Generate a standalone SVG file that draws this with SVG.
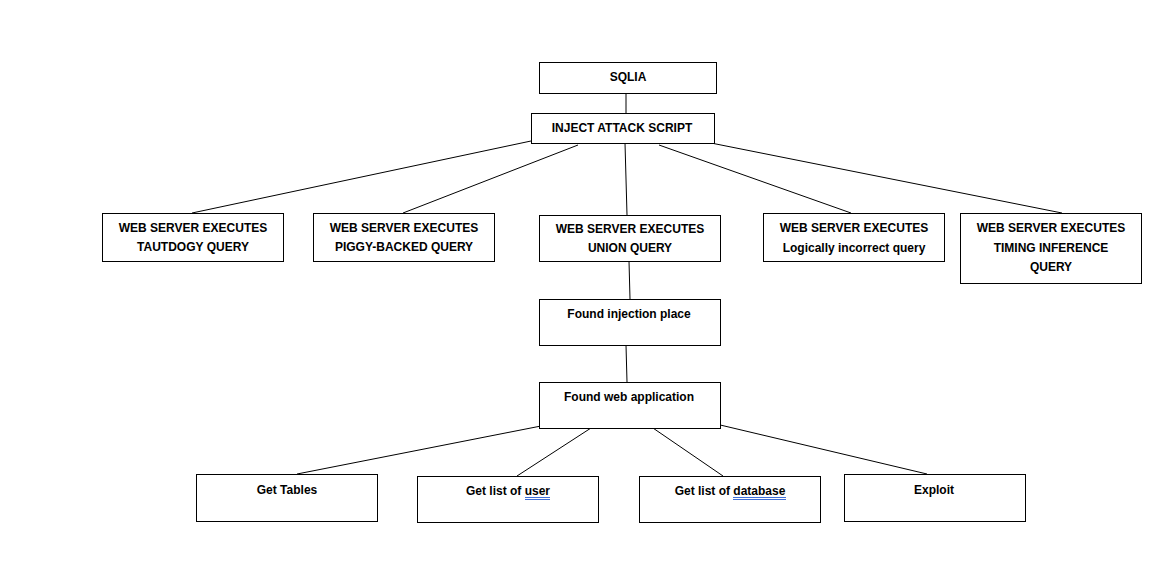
<svg xmlns="http://www.w3.org/2000/svg" width="1157" height="570" viewBox="0 0 1157 570">
<style>
.box{fill:#fff;stroke:#000;stroke-width:1}
.t{font-family:"Liberation Sans",Arial,sans-serif;font-weight:bold;font-size:12px;fill:#000;text-anchor:middle}
.c line{stroke:#000;stroke-width:1}
.u{stroke:#3f6fd8;stroke-width:1}
</style>
<rect width="1157" height="570" fill="#fff"/>
<g class="c" id="connectors">
<line x1="626" y1="93" x2="626" y2="113"/>
<line x1="531" y1="141" x2="192" y2="213"/>
<line x1="578" y1="145" x2="403" y2="213"/>
<line x1="625" y1="143" x2="627" y2="215"/>
<line x1="659" y1="145" x2="851" y2="213"/>
<line x1="711" y1="143" x2="1062" y2="213"/>
<line x1="629" y1="261" x2="630" y2="299"/>
<line x1="626" y1="345" x2="627" y2="382"/>
<line x1="541" y1="426" x2="297" y2="474"/>
<line x1="591" y1="428" x2="517" y2="476"/>
<line x1="650" y1="426" x2="723" y2="476"/>
<line x1="716" y1="424" x2="927" y2="474"/>
</g>
<g id="sqlia"><rect class="box" x="539.5" y="62.5" width="177" height="31"/><text class="t" x="628" y="81">SQLIA</text></g>
<g id="inject"><rect class="box" x="531.5" y="113.5" width="183" height="30"/><text class="t" x="622" y="132">INJECT ATTACK SCRIPT</text></g>
<g id="tautology"><rect class="box" x="102.5" y="213.5" width="181" height="48"/><text class="t" x="193" y="232">WEB SERVER EXECUTES</text><text class="t" x="193" y="251">TAUTDOGY QUERY</text></g>
<g id="piggy"><rect class="box" x="313.5" y="213.5" width="181" height="48"/><text class="t" x="404" y="232">WEB SERVER EXECUTES</text><text class="t" x="404" y="251">PIGGY-BACKED QUERY</text></g>
<g id="union"><rect class="box" x="539.5" y="215.5" width="181" height="46"/><text class="t" x="630" y="233">WEB SERVER EXECUTES</text><text class="t" x="630" y="252">UNION QUERY</text></g>
<g id="logical"><rect class="box" x="763.5" y="213.5" width="181" height="48"/><text class="t" x="854" y="232">WEB SERVER EXECUTES</text><text class="t" x="854" y="252">Logically incorrect query</text></g>
<g id="timing"><rect class="box" x="960.5" y="213.5" width="181" height="70"/><text class="t" x="1051" y="232">WEB SERVER EXECUTES</text><text class="t" x="1051" y="252">TIMING INFERENCE</text><text class="t" x="1051" y="271">QUERY</text></g>
<g id="injection-place"><rect class="box" x="539.5" y="299.5" width="181" height="46"/><text class="t" x="629" y="318">Found injection place</text></g>
<g id="web-app"><rect class="box" x="539.5" y="382.5" width="181" height="46"/><text class="t" x="629" y="401">Found web application</text></g>
<g id="tables"><rect class="box" x="196.5" y="474.5" width="181" height="47"/><text class="t" x="287" y="494">Get Tables</text></g>
<g id="users"><rect class="box" x="417.5" y="476.5" width="181" height="46"/><text class="t" x="508" y="495">Get list of user</text><line class="u" x1="525" y1="497.5" x2="550" y2="497.5"/><line class="u" x1="525" y1="499.5" x2="550" y2="499.5"/></g>
<g id="databases"><rect class="box" x="639.5" y="476.5" width="181" height="46"/><text class="t" x="730" y="495">Get list of database</text><line class="u" x1="733" y1="497.5" x2="786" y2="497.5"/><line class="u" x1="733" y1="499.5" x2="786" y2="499.5"/></g>
<g id="exploit"><rect class="box" x="844.5" y="474.5" width="181" height="47"/><text class="t" x="934" y="494">Exploit</text></g>
</svg>
